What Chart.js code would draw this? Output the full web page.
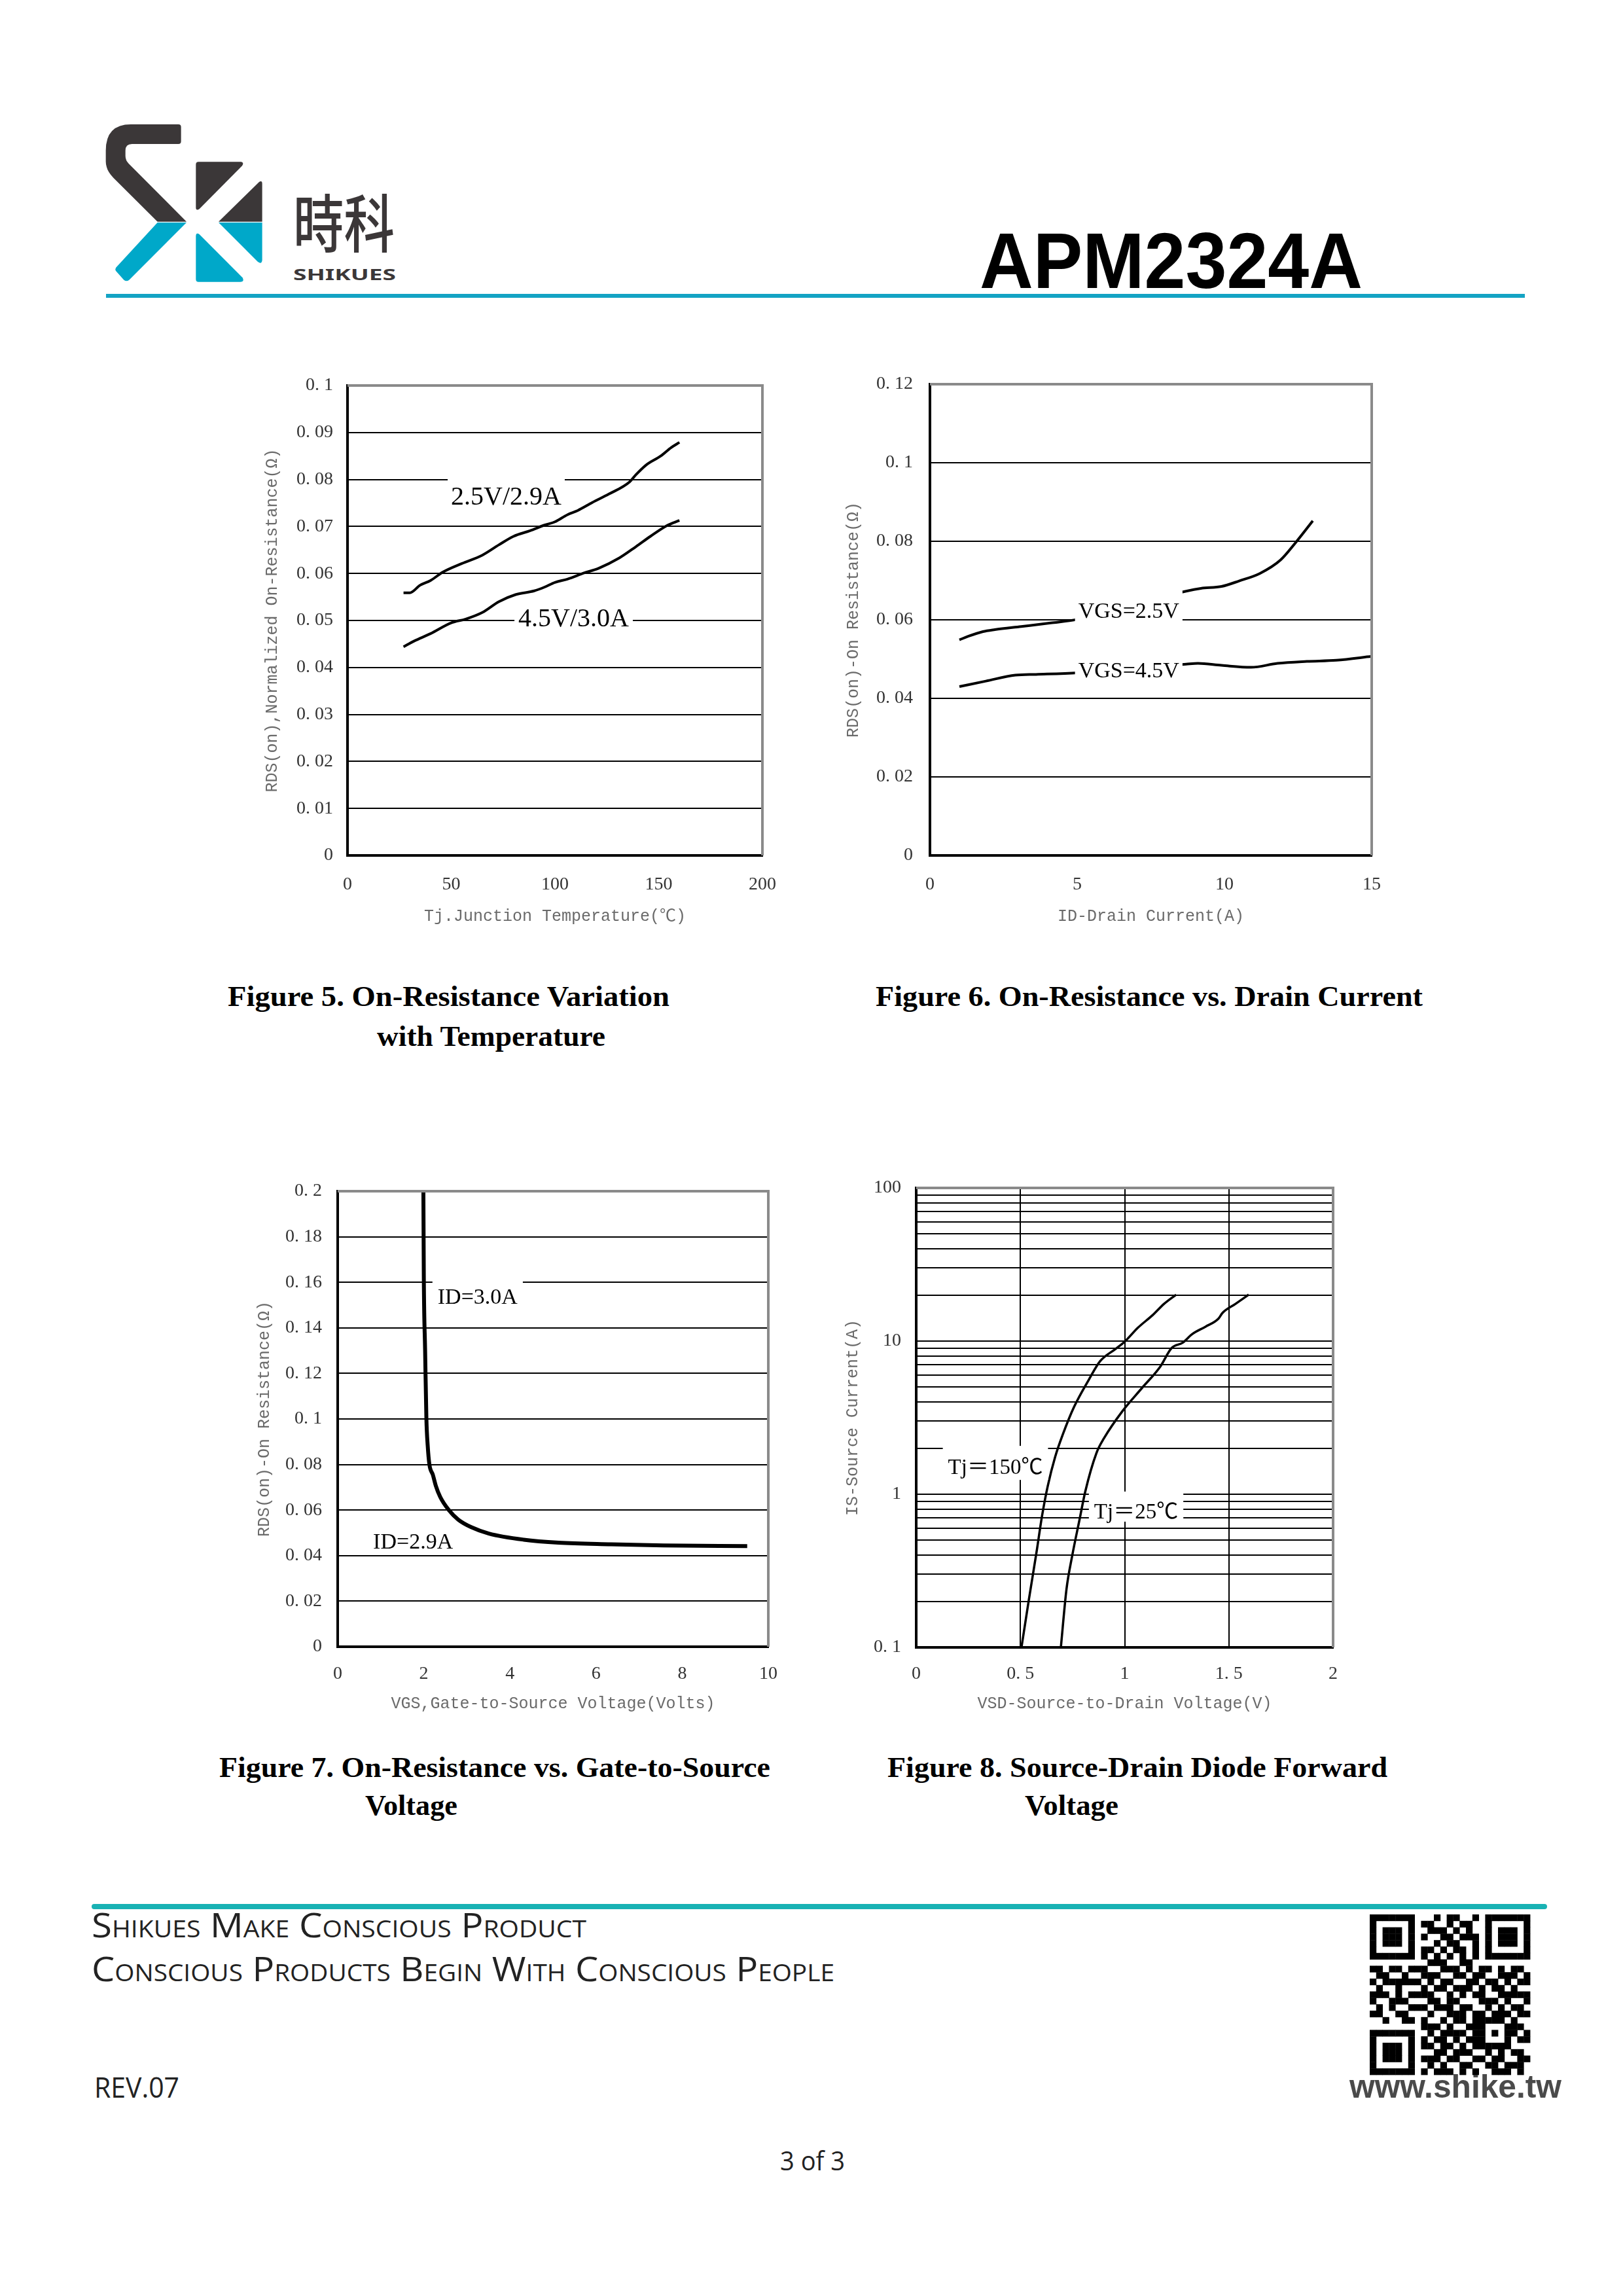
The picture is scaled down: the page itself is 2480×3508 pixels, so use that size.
<!DOCTYPE html>
<html>
<head>
<meta charset="utf-8">
<script src="https://cdn.jsdelivr.net/npm/chart.js@4.4.1/dist/chart.umd.min.js"></script>
<style>
  html, body { margin: 0; padding: 0; background: #fff; }
  #page { position: relative; width: 2480px; height: 3508px; overflow: hidden; background: #fff; }
  #page svg { position: absolute; left: 0; top: 0; }
  canvas { position: absolute; }
</style>
</head>
<body>
<div id="page">
<svg id="deco" width="2480" height="3508" xmlns="http://www.w3.org/2000/svg">
  <!-- logo -->
  <g transform="translate(150,180) scale(0.3333)">
    <path fill="#3b3738" d="M380,42 Q380,30 368,30 L150,30 Q35,30 35,150 L35,200 Q35,240 70,275 L272,476 L405,476 L140,210 Q125,195 125,175 L125,150 Q125,120 155,120 L368,120 Q380,120 380,108 Z"/>
    <path fill="#00a8c9" d="M272,480 L405,480 L142,743 Q130,752 118,743 L82,703 Q74,692 86,682 Z"/>
    <path fill="#3b3738" d="M448,214 Q448,202 460,202 L656,202 Q670,206 660,220 L464,418 Q448,428 448,410 Z"/>
    <path fill="#3b3738" d="M738,294 Q752,286 752,302 L752,476 L552,476 Z"/>
    <path fill="#00a8c9" d="M448,544 Q448,524 464,534 L662,733 Q672,752 652,752 L460,752 Q448,752 448,740 Z"/>
    <path fill="#00a8c9" d="M552,480 L752,480 L752,652 Q750,674 732,660 Z"/>
  </g>
  <text x="448" y="377" font-family="'Noto Sans CJK TC'" font-size="96" font-weight="500" fill="#3b3738" textLength="155" lengthAdjust="spacingAndGlyphs">時科</text>
  <text x="448" y="428" font-family="'Noto Sans'" font-size="23" font-weight="700" fill="#3b3738" textLength="157" lengthAdjust="spacingAndGlyphs">SHIKUES</text>
  <text x="1497" y="440" font-family="'Liberation Sans'" font-size="120" font-weight="700" fill="#000" textLength="585" lengthAdjust="spacingAndGlyphs">APM2324A</text>
  <rect x="162" y="449" width="2168" height="6" fill="#14a3c4"/>

  <!-- captions -->
  <g font-family="'Liberation Serif'" font-size="45" font-weight="700" fill="#000" style="white-space:pre">
    <text x="348" y="1537" textLength="675" lengthAdjust="spacingAndGlyphs">Figure 5.  On-Resistance Variation</text>
    <text x="576" y="1598" textLength="349" lengthAdjust="spacingAndGlyphs">with Temperature</text>
    <text x="1338" y="1537" textLength="836" lengthAdjust="spacingAndGlyphs">Figure 6.  On-Resistance vs. Drain Current</text>
    <text x="335" y="2715" textLength="842" lengthAdjust="spacingAndGlyphs">Figure 7.   On-Resistance vs. Gate-to-Source</text>
    <text x="558" y="2773" textLength="141" lengthAdjust="spacingAndGlyphs">Voltage</text>
    <text x="1356" y="2715" textLength="764" lengthAdjust="spacingAndGlyphs">Figure 8.   Source-Drain Diode Forward</text>
    <text x="1566" y="2773" textLength="143" lengthAdjust="spacingAndGlyphs">Voltage</text>
  </g>

  <!-- footer -->
  <line x1="144" y1="2913" x2="2360" y2="2913" stroke="#19b2b4" stroke-width="8" stroke-linecap="round"/>
  <g font-family="'Open Sans'" fill="#222" style="font-variant: small-caps">
    <text x="140" y="2960" font-size="52" textLength="756" lengthAdjust="spacingAndGlyphs">Shikues Make Conscious Product</text>
    <text x="140" y="3027" font-size="52" textLength="1135" lengthAdjust="spacingAndGlyphs">Conscious Products Begin With Conscious People</text>
  </g>
  <text x="144" y="3205" font-family="'Open Sans'" font-size="44" fill="#222" textLength="130" lengthAdjust="spacingAndGlyphs">REV.07</text>
  <text x="2062" y="3205" font-family="'Liberation Sans'" font-size="50" font-weight="700" fill="#4a4a4a" textLength="324" lengthAdjust="spacingAndGlyphs">www.shike.tw</text>
  <text x="1192" y="3316" font-family="'Open Sans'" font-size="40" fill="#222" textLength="99" lengthAdjust="spacingAndGlyphs">3 of 3</text>
  <g id="qr" fill="#000"></g>
</svg>
<canvas id="fig5"></canvas>
<canvas id="fig6"></canvas>
<canvas id="fig7"></canvas>
<canvas id="fig8"></canvas>
</div>

<script>
// ---- Figure 5: RDS(on) vs junction temperature
const f5TempA = [27, 30, 35, 40, 46, 55, 65, 73, 80, 88, 95, 100, 106, 111, 118, 126, 136, 139, 144, 151, 156, 160];
const f5RdsA  = [0.0559, 0.0559, 0.0575, 0.0585, 0.0603, 0.0621, 0.0639, 0.0661, 0.0679, 0.0691, 0.0703, 0.0710, 0.0725, 0.0734, 0.0751, 0.0769, 0.0795, 0.0810, 0.0831, 0.0850, 0.0868, 0.0879];
const f5TempB = [27, 32, 40, 50, 57, 65, 73, 81, 90, 95, 100, 106, 114, 121, 131, 139, 146, 154, 160];
const f5RdsB  = [0.0444, 0.0456, 0.0472, 0.0495, 0.0503, 0.0517, 0.0540, 0.0555, 0.0563, 0.0571, 0.0581, 0.0588, 0.0601, 0.0611, 0.0633, 0.0657, 0.0679, 0.0702, 0.0713];
const f5XTicks = [0, 50, 100, 150, 200];
const f5YTicks = [0, 0.01, 0.02, 0.03, 0.04, 0.05, 0.06, 0.07, 0.08, 0.09, 0.1];
const f5YLabels = ['0', '0. 01', '0. 02', '0. 03', '0. 04', '0. 05', '0. 06', '0. 07', '0. 08', '0. 09', '0. 1'];

// ---- Figure 6: RDS(on) vs drain current
const f6IdA  = [1.0, 1.3, 1.8, 2.2, 3.1, 4.1, 5.0, 8.7, 9.2, 9.9, 10.5, 11.2, 11.9, 12.4, 13.0];
const f6RdsA = [0.0549, 0.0558, 0.0570, 0.0575, 0.0583, 0.0592, 0.0601, 0.0673, 0.0680, 0.0685, 0.0699, 0.0718, 0.0752, 0.0795, 0.0852];
const f6IdB  = [1.0, 1.9, 2.9, 3.6, 5.0, 8.7, 9.1, 9.9, 10.9, 11.8, 12.8, 13.8, 15.0];
const f6RdsB = [0.0430, 0.0444, 0.0459, 0.0461, 0.0465, 0.0487, 0.0489, 0.0484, 0.0479, 0.0489, 0.0494, 0.0497, 0.0507];
const f6XTicks = [0, 5, 10, 15];
const f6YTicks = [0, 0.02, 0.04, 0.06, 0.08, 0.1, 0.12];
const f6YLabels = ['0', '0. 02', '0. 04', '0. 06', '0. 08', '0. 1', '0. 12'];

// ---- Figure 7: RDS(on) vs gate-to-source voltage
const f7Vgs = [1.99, 2.0, 2.03, 2.06, 2.09, 2.13, 2.21, 2.28, 2.38, 2.58, 2.8, 3.1, 3.51, 4.32, 5.13, 6.35, 7.57, 9.51];
const f7Rds = [0.2, 0.1626, 0.1303, 0.1, 0.0884, 0.080, 0.0755, 0.0706, 0.0658, 0.060, 0.0558, 0.0525, 0.0497, 0.0470, 0.0457, 0.0450, 0.0445, 0.0442];
const f7XTicks = [0, 2, 4, 6, 8, 10];
const f7YTicks = [0, 0.02, 0.04, 0.06, 0.08, 0.1, 0.12, 0.14, 0.16, 0.18, 0.2];
const f7YLabels = ['0', '0. 02', '0. 04', '0. 06', '0. 08', '0. 1', '0. 12', '0. 14', '0. 16', '0. 18', '0. 2'];

// ---- Figure 8: diode forward voltage (log current)
const f8VsdHot  = [0.505, 0.54, 0.577, 0.604, 0.631, 0.667, 0.703, 0.757, 0.829, 0.883, 0.955, 1.0, 1.063, 1.135, 1.189, 1.247];
const f8IsHot   = [0.1, 0.203, 0.417, 0.726, 1.13, 1.76, 2.45, 3.71, 5.62, 7.41, 8.86, 9.9, 12.2, 14.8, 17.5, 20.1];
const f8VsdCold = [0.694, 0.721, 0.748, 0.784, 0.811, 0.865, 0.901, 0.991, 1.081, 1.171, 1.225, 1.279, 1.324, 1.387, 1.45, 1.468, 1.532, 1.595];
const f8IsCold  = [0.1, 0.24, 0.394, 0.687, 1.04, 1.86, 2.32, 3.51, 4.9, 6.82, 9.0, 9.77, 11.1, 12.4, 14.0, 15.2, 17.5, 20.1];
const f8XTicks = [0, 0.5, 1, 1.5, 2];
const f8XLabels = ['0', '0. 5', '1', '1. 5', '2'];
const f8Decades = [0.1, 1, 10, 100];
const f8DecadeLabels = ['0. 1', '1', '10', '100'];

// log grid: 1..9 in every decade
const f8YGrid = [];
f8Decades.forEach((d, i) => {
  if (i === f8Decades.length - 1) { f8YGrid.push(d); return; }
  for (let k = 1; k <= 9; k++) f8YGrid.push(+(d * k).toPrecision(3));
});

const tickFont = { family: "'Liberation Serif', serif", size: 28, lineHeight: 1 };
const titleFont = { family: "'Liberation Mono', 'Noto Sans CJK SC', monospace", size: 25, lineHeight: 1 };

// gray top/right frame and curve labels with white background
const framePlugin = {
  id: 'frame',
  afterDatasetsDraw(chart, args, opts) {
    const { ctx, chartArea: a } = chart;
    ctx.save();
    ctx.strokeStyle = '#8a8a8a';
    ctx.lineWidth = 4;
    ctx.beginPath();
    ctx.moveTo(a.left, a.top);
    ctx.lineTo(a.right, a.top);
    ctx.lineTo(a.right, a.bottom);
    ctx.stroke();

    (opts.labels || []).forEach(l => {
      const x = chart.scales.x.getPixelForValue(l.x);
      const y = chart.scales.y.getPixelForValue(l.y);
      ctx.font = l.size + "px 'Liberation Serif', 'Noto Sans CJK SC', serif";
      const w = ctx.measureText(l.text).width;
      ctx.fillStyle = '#fff';
      ctx.fillRect(x - w / 2 - l.padX, y - l.up, w + 2 * l.padX, l.up + l.down);
      ctx.fillStyle = '#000';
      ctx.textAlign = 'center';
      ctx.textBaseline = 'middle';
      ctx.fillText(l.text, x, y + 2);
    });
    ctx.restore();
  }
};

const toPoints = (xs, ys) => xs.map((x, i) => ({ x: x, y: ys[i] }));

const curve = (data, width) => ({
  data: data,
  borderColor: '#000',
  borderWidth: width,
  pointRadius: 0,
  fill: false,
  cubicInterpolationMode: 'monotone'
});

function makeChart(id, pos, ax, datasets, labels) {
  const cv = document.getElementById(id);
  const { box, plot } = pos;
  cv.width = box.w;
  cv.height = box.h;
  cv.style.left = box.x + 'px';
  cv.style.top = box.y + 'px';
  const yAxisW = plot.left - box.x;
  const xAxisH = box.y + box.h - plot.bottom;

  return new Chart(cv, {
    type: 'line',
    data: { datasets: datasets },
    options: {
      responsive: false,
      animation: false,
      devicePixelRatio: 1,
      layout: { padding: { top: plot.top - box.y, right: box.x + box.w - plot.right, left: 0, bottom: 0 } },
      plugins: {
        legend: { display: false },
        tooltip: { enabled: false },
        frame: { labels: labels }
      },
      scales: {
        x: {
          type: 'linear',
          min: ax.xMin,
          max: ax.xMax,
          afterBuildTicks: s => { s.ticks = ax.xTicks.map(v => ({ value: v })); },
          ticks: {
            callback: (v, i) => ax.xLabels ? ax.xLabels[i] : String(v),
            font: tickFont,
            color: '#333',
            padding: pos.xTickY - plot.bottom - tickFont.size / 2,
            maxRotation: 0,
            autoSkip: false
          },
          grid: { display: ax.xGrid, color: '#000', lineWidth: 2, drawTicks: false },
          border: { display: true, color: '#000', width: 4 },
          title: {
            display: true,
            text: ax.xTitle,
            font: titleFont,
            color: '#6a6a6a',
            padding: { top: 0, bottom: box.y + box.h - pos.xTitleY - titleFont.size / 2 }
          },
          afterFit: s => { s.height = xAxisH; s.paddingLeft = 0; s.paddingRight = 0; }
        },
        y: {
          type: ax.yType,
          min: ax.yMin,
          max: ax.yMax,
          afterBuildTicks: s => { s.ticks = ax.yTicks.map(v => ({ value: v })); },
          ticks: {
            callback: ax.yLabelFn,
            font: tickFont,
            color: '#333',
            padding: plot.left - pos.yTickRight,
            autoSkip: false
          },
          grid: { color: '#000', lineWidth: 2, drawTicks: false },
          border: { display: true, color: '#000', width: 4 },
          title: {
            display: true,
            text: ax.yTitle,
            font: titleFont,
            color: '#6a6a6a',
            padding: { top: pos.yTitleX - box.x - titleFont.size / 2, bottom: 0 }
          },
          afterFit: s => { s.width = yAxisW; s.paddingTop = 0; s.paddingBottom = 0; }
        }
      }
    },
    plugins: [framePlugin]
  });
}

// Figure 5
makeChart('fig5',
  { box: { x: 370, y: 550, w: 830, h: 880 }, plot: { left: 531, top: 589, right: 1165, bottom: 1307 },
    yTickRight: 509, yTitleX: 416, xTickY: 1352, xTitleY: 1400 },
  { xMin: 0, xMax: 200, xTicks: f5XTicks, xGrid: false, xTitle: 'Tj.Junction Temperature(℃)',
    yType: 'linear', yMin: 0, yMax: 0.1, yTicks: f5YTicks, yLabelFn: (v, i) => f5YLabels[i],
    yTitle: 'RDS(on),Normalized On-Resistance(Ω)' },
  [curve(toPoints(f5TempA, f5RdsA), 4), curve(toPoints(f5TempB, f5RdsB), 4)],
  [
    { text: '2.5V/2.9A', x: 76.5, y: 0.0764, size: 40, padX: 5, up: 31, down: 22 },
    { text: '4.5V/3.0A', x: 109, y: 0.0505, size: 40, padX: 6, up: 24, down: 22 }
  ]);

// Figure 6
makeChart('fig6',
  { box: { x: 1260, y: 550, w: 880, h: 880 }, plot: { left: 1421, top: 587, right: 2096, bottom: 1307 },
    yTickRight: 1395, yTitleX: 1304, xTickY: 1352, xTitleY: 1400 },
  { xMin: 0, xMax: 15, xTicks: f6XTicks, xGrid: false, xTitle: 'ID-Drain Current(A)',
    yType: 'linear', yMin: 0, yMax: 0.12, yTicks: f6YTicks, yLabelFn: (v, i) => f6YLabels[i],
    yTitle: 'RDS(on)-On Resistance(Ω)' },
  [curve(toPoints(f6IdA, f6RdsA), 4), curve(toPoints(f6IdB, f6RdsB), 4)],
  [
    { text: 'VGS=2.5V', x: 6.75, y: 0.0623, size: 34, padX: 5, up: 31, down: 22 },
    { text: 'VGS=4.5V', x: 6.75, y: 0.0472, size: 34, padX: 5, up: 22, down: 22 }
  ]);

// Figure 7
makeChart('fig7',
  { box: { x: 360, y: 1780, w: 850, h: 860 }, plot: { left: 516, top: 1820, right: 1174, bottom: 2516 },
    yTickRight: 492, yTitleX: 404, xTickY: 2558, xTitleY: 2603 },
  { xMin: 0, xMax: 10, xTicks: f7XTicks, xGrid: false, xTitle: 'VGS,Gate-to-Source Voltage(Volts)',
    yType: 'linear', yMin: 0, yMax: 0.2, yTicks: f7YTicks, yLabelFn: (v, i) => f7YLabels[i],
    yTitle: 'RDS(on)-On Resistance(Ω)' },
  [curve(toPoints(f7Vgs, f7Rds), 6)],
  [
    { text: 'ID=3.0A', x: 3.25, y: 0.1537, size: 34, padX: 8, up: 26, down: 20 },
    { text: 'ID=2.9A', x: 1.75, y: 0.0461, size: 34, padX: 4, up: 18, down: 18 }
  ]);

// Figure 8
makeChart('fig8',
  { box: { x: 1250, y: 1780, w: 830, h: 860 }, plot: { left: 1400, top: 1815, right: 2037, bottom: 2517 },
    yTickRight: 1377, yTitleX: 1303, xTickY: 2558, xTitleY: 2603 },
  { xMin: 0, xMax: 2, xTicks: f8XTicks, xLabels: f8XLabels, xGrid: true, xTitle: 'VSD-Source-to-Drain Voltage(V)',
    yType: 'logarithmic', yMin: 0.1, yMax: 100, yTicks: f8YGrid,
    yLabelFn: v => { const i = f8Decades.findIndex(d => Math.abs(d - v) < 1e-9); return i >= 0 ? f8DecadeLabels[i] : ''; },
    yTitle: 'IS-Source Current(A)' },
  [curve(toPoints(f8VsdHot, f8IsHot), 3.5), curve(toPoints(f8VsdCold, f8IsCold), 3.5)],
  [
    { text: 'Tj＝150℃', x: 0.38, y: 1.51, size: 33, padX: 8, up: 32, down: 20 },
    { text: 'Tj＝25℃', x: 1.055, y: 0.775, size: 33, padX: 8, up: 30, down: 16 }
  ]);

// QR code mark (decorative)
const finder = ['1111111', '1000001', '1011101', '1011101', '1011101', '1000001', '1111111'];
const qrTop = ['001011001', '110010110', '011101010', '100110111', '001011001', '110101101', '101010101', '011100110'];
const qrMid = [
  '1101101110011101011010110',
  '0110010011100110110011101',
  '1011111101011001101101011',
  '0100100010110111010110100',
  '1110101111001010110011111',
  '1001110001101100011101001',
  '0101001110111011001010110',
  '1100110001001110110111011',
  '0010011010010110111110100'
];
const qrBottom = ['11101001110001110', '01011110110101101', '10110101110001011', '11011010111111000',
  '00110111001010110', '11101100110110011', '01010011001101110', '10111010100111010'];
const qrRows = [];
for (let r = 0; r < 7; r++) qrRows.push(finder[r] + '0' + qrTop[r] + '0' + finder[r]);
qrRows.push('00000000' + qrTop[7] + '00000000');
qrMid.forEach(s => qrRows.push(s));
qrRows.push('00000000' + qrBottom[0]);
for (let r = 0; r < 7; r++) qrRows.push(finder[r] + '0' + qrBottom[r + 1]);

const qr = document.getElementById('qr');
const mod = 9.8;
qrRows.forEach((row, r) => {
  for (let c = 0; c < row.length; c++) {
    if (row[c] !== '1') continue;
    const rect = document.createElementNS('http://www.w3.org/2000/svg', 'rect');
    rect.setAttribute('x', (2093 + c * mod).toFixed(1));
    rect.setAttribute('y', (2925 + r * mod).toFixed(1));
    rect.setAttribute('width', (mod + 0.4).toFixed(1));
    rect.setAttribute('height', (mod + 0.4).toFixed(1));
    qr.appendChild(rect);
  }
});
</script>
</body>
</html>
